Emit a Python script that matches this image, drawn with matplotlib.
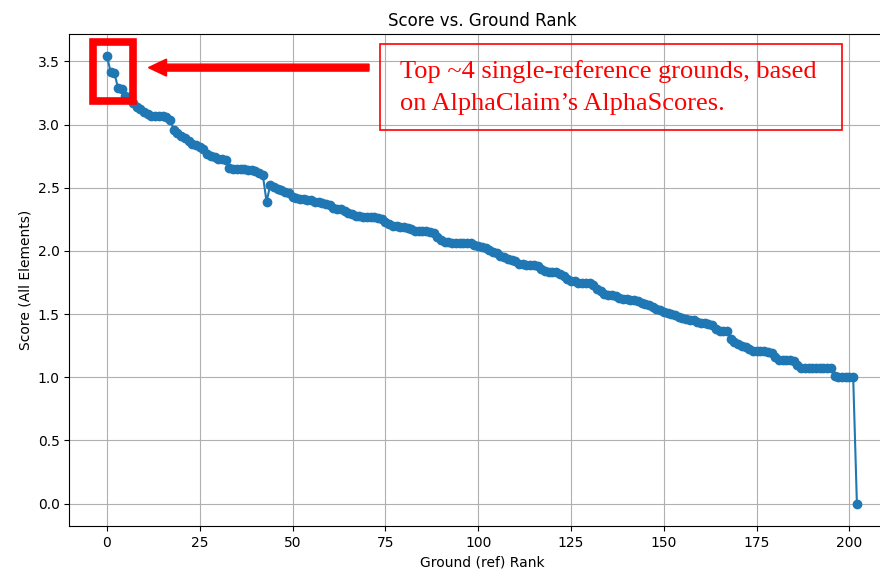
import matplotlib
matplotlib.use("Agg")
import matplotlib.pyplot as plt
from matplotlib.patches import Rectangle, FancyArrow
import numpy as np

# AlphaScore of every single-reference ground, sorted by rank
scores = [
    3.54, 3.42, 3.41, 3.29, 3.28, 3.23, 3.22, 3.17, 3.14, 3.12,
    3.10, 3.08, 3.07, 3.07, 3.07, 3.07, 3.06, 3.04, 2.96, 2.93,
    2.91, 2.89, 2.87, 2.85, 2.84, 2.82, 2.81, 2.77, 2.75, 2.74,
    2.73, 2.73, 2.72, 2.66, 2.65, 2.65, 2.65, 2.65, 2.64, 2.64,
    2.63, 2.62, 2.60, 2.39, 2.52, 2.51, 2.49, 2.48, 2.47, 2.46,
    2.43, 2.42, 2.41, 2.41, 2.40, 2.40, 2.39, 2.39, 2.38, 2.37,
    2.36, 2.34, 2.33, 2.33, 2.32, 2.30, 2.29, 2.28, 2.28, 2.27,
    2.27, 2.27, 2.27, 2.26, 2.25, 2.23, 2.21, 2.20, 2.20, 2.19,
    2.19, 2.18, 2.17, 2.16, 2.16, 2.16, 2.16, 2.15, 2.14, 2.11,
    2.09, 2.07, 2.07, 2.06, 2.06, 2.06, 2.06, 2.06, 2.06, 2.05,
    2.04, 2.03, 2.02, 2.01, 1.99, 1.98, 1.96, 1.95, 1.94, 1.93,
    1.92, 1.90, 1.90, 1.89, 1.89, 1.89, 1.88, 1.86, 1.84, 1.83,
    1.83, 1.83, 1.82, 1.80, 1.78, 1.76, 1.76, 1.75, 1.75, 1.75,
    1.75, 1.73, 1.70, 1.68, 1.66, 1.65, 1.65, 1.64, 1.63, 1.62,
    1.62, 1.61, 1.61, 1.60, 1.59, 1.58, 1.57, 1.56, 1.54, 1.53,
    1.52, 1.51, 1.50, 1.49, 1.48, 1.47, 1.46, 1.45, 1.45, 1.44,
    1.43, 1.43, 1.42, 1.41, 1.38, 1.37, 1.37, 1.37, 1.30, 1.28,
    1.26, 1.25, 1.24, 1.22, 1.21, 1.21, 1.21, 1.21, 1.20, 1.19,
    1.16, 1.14, 1.14, 1.14, 1.14, 1.13, 1.10, 1.07, 1.07, 1.07,
    1.07, 1.07, 1.07, 1.07, 1.07, 1.07, 1.01, 1.00, 1.00, 1.00,
    1.00, 1.00, 0.00,
]
ranks = np.arange(len(scores))

note_lines = ["Top ~4 single-reference grounds, based",
              "on AlphaClaim\u2019s AlphaScores."]

W, H = 880, 570
fig = plt.figure(figsize=(W / 100, H / 100), dpi=100)
# axes runs slightly past the right edge of the figure
ax = fig.add_axes([69.4 / W, (H - 526) / H, 825 / W, (526 - 34) / H])

ax.plot(ranks, scores, marker="o")
ax.set_title("Score vs. Ground Rank")
ax.set_xlabel("Ground (ref) Rank")
ax.set_ylabel("Score (All Elements)")
ax.grid(True)
ax.margins(0.05)
x0, x1 = ax.get_xlim()
y0, y1 = ax.get_ylim()

# red box around the top grounds
ax.add_patch(Rectangle((-3.7, 3.189), 10.8, 0.465, fill=False,
                       edgecolor="red", linewidth=5.5, clip_on=False, zorder=5))

# arrow pointing at the box
ax.add_patch(FancyArrow(70.6, 3.451, -59.4, 0, width=0.055, head_width=0.134,
                        head_length=4.85, length_includes_head=True,
                        color="red", clip_on=False, zorder=5))
ax.set_xlim(x0, x1)
ax.set_ylim(y0, y1)

# note box in figure pixels
fig.add_artist(Rectangle((380 / W, 1 - 130 / H), (842 - 380) / W, (130 - 44) / H,
                         transform=fig.transFigure, fill=False,
                         edgecolor="red", linewidth=1.2))
for i, line in enumerate(note_lines):
    fig.text(400 / W, 1 - (72 + 32 * i) / H, line, family="Liberation Serif",
             fontsize=19, color="red", va="center", ha="left")

fig.savefig("out.png", dpi=100)
